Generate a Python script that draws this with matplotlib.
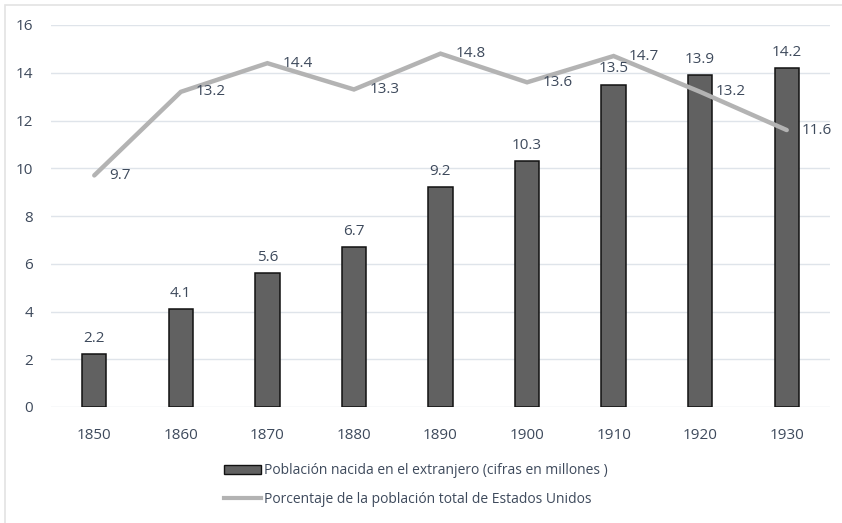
import matplotlib.pyplot as plt
from matplotlib.patches import Rectangle
from matplotlib.lines import Line2D

# datos
years = ['1850', '1860', '1870', '1880', '1890', '1900', '1910', '1920', '1930']
nacidos_extranjero = [2.2, 4.1, 5.6, 6.7, 9.2, 10.3, 13.5, 13.9, 14.2]
porcentaje_total = [9.7, 13.2, 14.4, 13.3, 14.8, 13.6, 14.7, 13.2, 11.6]
y_ticks = [0, 2, 4, 6, 8, 10, 12, 14, 16]

label_bar = 'Población nacida en el extranjero (cifras en millones )'
label_line = 'Porcentaje de la población total de Estados Unidos'

text_color = '#3e4a5c'
bar_color = '#616161'
line_color = '#b3b3b3'
grid_color = '#dfe4ea'

plt.rcParams['font.family'] = ['Open Sans', 'DejaVu Sans']

fig = plt.figure(figsize=(8.42, 5.23), dpi=100)
ax = fig.add_axes([51 / 842, 1 - 407 / 523, 779 / 842, 382 / 523])

x = list(range(len(years)))

ax.bar(x, nacidos_extranjero, width=0.28, color=bar_color,
       edgecolor='#111111', linewidth=1.1, zorder=2)
ax.plot(x, porcentaje_total, color=line_color, linewidth=3.2,
        solid_capstyle='round', solid_joinstyle='miter', zorder=3)

for xi, v in zip(x, nacidos_extranjero):
    ax.annotate(f'{v}', (xi, v), xytext=(0, 6), textcoords='offset points',
                ha='center', va='bottom', fontsize=11, color=text_color, zorder=4)

for xi, v in zip(x, porcentaje_total):
    ax.annotate(f'{v}', (xi, v), xytext=(11, 0), textcoords='offset points',
                ha='left', va='center', fontsize=11, color=text_color, zorder=4)

ax.set_xlim(-0.5, len(years) - 0.5)
ax.set_ylim(0, 16)
ax.set_yticks(y_ticks)
ax.set_xticks(x)
ax.set_xticklabels(years)
ax.tick_params(axis='both', length=0, labelsize=11, labelcolor=text_color)
ax.tick_params(axis='x', pad=15)
ax.tick_params(axis='y', pad=13)
ax.grid(axis='y', color=grid_color, linewidth=1, zorder=0)
for s in ax.spines.values():
    s.set_visible(False)

# --- leyenda ---
handles = [Rectangle((0, 0), 1, 1, facecolor=bar_color, edgecolor='#111111', linewidth=1),
           Line2D([0], [0], color=line_color, linewidth=3)]
fig.legend(handles, [label_bar, label_line], loc='upper left',
           bbox_to_anchor=(211 / 842, 1 - 451 / 523), frameon=False,
           fontsize=10, labelcolor=text_color, handlelength=2.7,
           handleheight=0.55, handletextpad=0.2, labelspacing=0.95)

# borde exterior
fig.patches.append(Rectangle((5 / 842, -0.05), 1.1, 1 - 5 / 523 + 0.05,
                             transform=fig.transFigure, fill=False,
                             edgecolor='#e3e3e3', linewidth=1.2))

fig.savefig('out.png', dpi=100)
